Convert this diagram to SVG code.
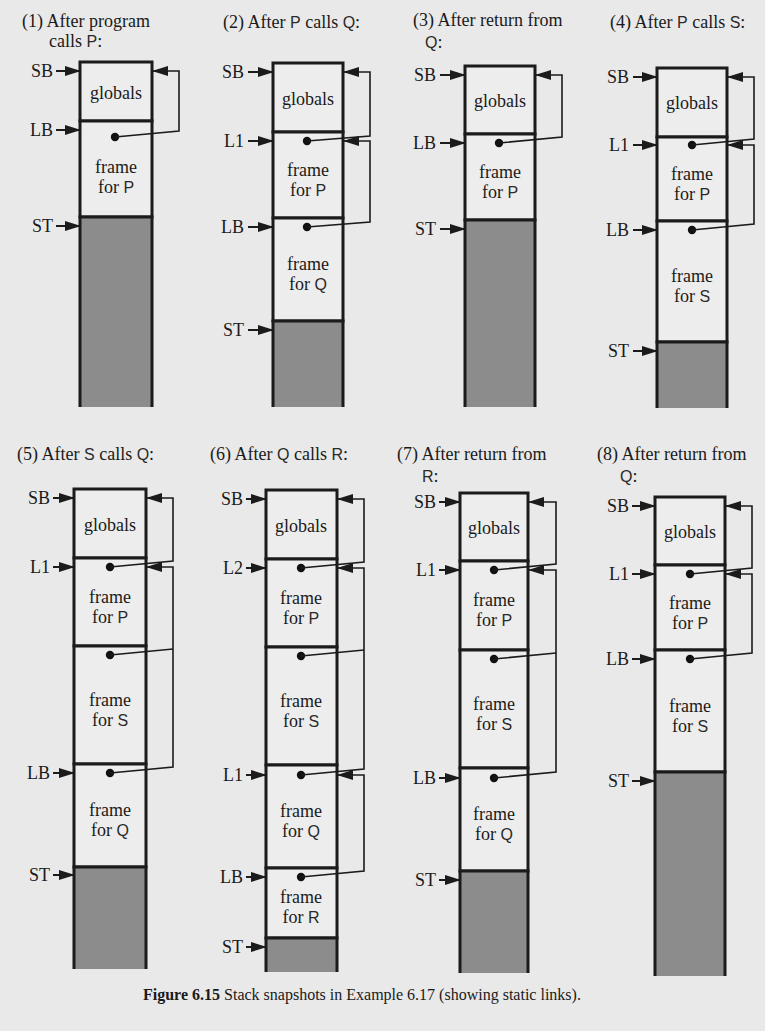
<svg xmlns="http://www.w3.org/2000/svg" width="765" height="1031" viewBox="0 0 765 1031">
<defs>
<style>
.t{font-family:"Liberation Serif","Times New Roman",serif;font-size:18px;fill:#1a1a1a}
.c{text-anchor:middle}
.e{text-anchor:end}
.p{font-family:"Liberation Sans",Arial,sans-serif;font-size:16px;fill:#2a2a2a}
.box{fill:#ededed;stroke:#1b1b1b;stroke-width:3}
.free{fill:#8c8c8c;stroke:none}
.col{fill:none;stroke:#1b1b1b;stroke-width:3}
.ptr{stroke:#1b1b1b;stroke-width:2;fill:none;marker-end:url(#ah)}
.lnk{stroke:#1b1b1b;stroke-width:1.6;fill:none;marker-end:url(#ah)}
.dot{fill:#111}
</style>
<marker id="ah" markerWidth="16" markerHeight="10" refX="15" refY="5" orient="auto" markerUnits="userSpaceOnUse"><path d="M0,0 L16,5 L0,10 z" fill="#1b1b1b"/></marker>
</defs>
<rect width="765" height="1031" fill="#e9e9e9"/>

<!-- Panel 1 -->
<g id="panel1">
<text class="t" x="22" y="27">(1) After program</text>
<text class="t" x="49" y="47">calls <tspan class="p">P</tspan>:</text>
<g id="p1-globals"><rect class="box" x="80" y="62" width="72" height="59"/><text class="t c" x="116" y="99">globals</text></g>
<g id="p1-frameP"><rect class="box" x="80" y="121" width="72" height="96"/><text class="t c" x="116" y="173">frame</text><text class="t c" x="116" y="193">for <tspan class="p">P</tspan></text></g>
<g id="p1-free"><rect class="free" x="80" y="217" width="72" height="190"/><path class="col" d="M80,407 V217 H152 V407"/></g>
<g id="p1-SB"><text class="t e" x="53" y="77">SB</text><line class="ptr" x1="56" y1="71" x2="80" y2="71"/></g>
<g id="p1-LB"><text class="t e" x="53" y="136">LB</text><line class="ptr" x1="56" y1="130" x2="80" y2="130"/></g>
<g id="p1-ST"><text class="t e" x="53" y="232">ST</text><line class="ptr" x1="56" y1="226" x2="80" y2="226"/></g>
<g id="p1-links"><circle class="dot" cx="115" cy="137" r="4.2"/><path class="lnk" d="M115,137 L179,131 V71 H153"/></g>
</g>

<!-- Panel 2 -->
<g id="panel2">
<text class="t" x="223" y="28">(2) After <tspan class="p">P</tspan> calls <tspan class="p">Q</tspan>:</text>
<g id="p2-globals"><rect class="box" x="273" y="63" width="70" height="69"/><text class="t c" x="308" y="105">globals</text></g>
<g id="p2-frameP"><rect class="box" x="273" y="132" width="70" height="86"/><text class="t c" x="308" y="176">frame</text><text class="t c" x="308" y="196">for <tspan class="p">P</tspan></text></g>
<g id="p2-frameQ"><rect class="box" x="273" y="218" width="70" height="103"/><text class="t c" x="308" y="270">frame</text><text class="t c" x="308" y="290">for <tspan class="p">Q</tspan></text></g>
<g id="p2-free"><rect class="free" x="273" y="321" width="70" height="86"/><path class="col" d="M273,407 V321 H343 V407"/></g>
<g id="p2-SB"><text class="t e" x="244" y="78">SB</text><line class="ptr" x1="248" y1="72" x2="273" y2="72"/></g>
<g id="p2-L1"><text class="t e" x="244" y="147">L1</text><line class="ptr" x1="248" y1="141" x2="273" y2="141"/></g>
<g id="p2-LB"><text class="t e" x="244" y="233">LB</text><line class="ptr" x1="248" y1="227" x2="273" y2="227"/></g>
<g id="p2-ST"><text class="t e" x="244" y="336">ST</text><line class="ptr" x1="248" y1="330" x2="273" y2="330"/></g>
<g id="p2-links"><circle class="dot" cx="307" cy="141" r="4.2"/><path class="lnk" d="M307,141 L370,136 V72 H344"/><circle class="dot" cx="307" cy="227" r="4.2"/><path class="lnk" d="M307,227 L370,222 V141 H344"/></g>
</g>

<!-- Panel 3 -->
<g id="panel3">
<text class="t" x="413" y="26">(3) After return from</text>
<text class="t" x="425" y="48"><tspan class="p">Q</tspan>:</text>
<g id="p3-globals"><rect class="box" x="465" y="66" width="70" height="68"/><text class="t c" x="500" y="107">globals</text></g>
<g id="p3-frameP"><rect class="box" x="465" y="134" width="70" height="86"/><text class="t c" x="500" y="178">frame</text><text class="t c" x="500" y="198">for <tspan class="p">P</tspan></text></g>
<g id="p3-free"><rect class="free" x="465" y="220" width="70" height="187"/><path class="col" d="M465,407 V220 H535 V407"/></g>
<g id="p3-SB"><text class="t e" x="436" y="81">SB</text><line class="ptr" x1="440" y1="75" x2="465" y2="75"/></g>
<g id="p3-LB"><text class="t e" x="436" y="149">LB</text><line class="ptr" x1="440" y1="143" x2="465" y2="143"/></g>
<g id="p3-ST"><text class="t e" x="436" y="235">ST</text><line class="ptr" x1="440" y1="229" x2="465" y2="229"/></g>
<g id="p3-links"><circle class="dot" cx="499" cy="143" r="4.2"/><path class="lnk" d="M499,143 L562,137 V75 H536"/></g>
</g>

<!-- Panel 4 -->
<g id="panel4">
<text class="t" x="610" y="28">(4) After <tspan class="p">P</tspan> calls <tspan class="p">S</tspan>:</text>
<g id="p4-globals"><rect class="box" x="657" y="68" width="70" height="69"/><text class="t c" x="692" y="109">globals</text></g>
<g id="p4-frameP"><rect class="box" x="657" y="137" width="70" height="84"/><text class="t c" x="692" y="180">frame</text><text class="t c" x="692" y="200">for <tspan class="p">P</tspan></text></g>
<g id="p4-frameS"><rect class="box" x="657" y="221" width="70" height="121"/><text class="t c" x="692" y="282">frame</text><text class="t c" x="692" y="302">for <tspan class="p">S</tspan></text></g>
<g id="p4-free"><rect class="free" x="657" y="342" width="70" height="66"/><path class="col" d="M657,408 V342 H727 V408"/></g>
<g id="p4-SB"><text class="t e" x="629" y="83">SB</text><line class="ptr" x1="633" y1="77" x2="657" y2="77"/></g>
<g id="p4-L1"><text class="t e" x="629" y="151">L1</text><line class="ptr" x1="633" y1="145" x2="657" y2="145"/></g>
<g id="p4-LB"><text class="t e" x="629" y="236">LB</text><line class="ptr" x1="633" y1="230" x2="657" y2="230"/></g>
<g id="p4-ST"><text class="t e" x="629" y="357">ST</text><line class="ptr" x1="633" y1="351" x2="657" y2="351"/></g>
<g id="p4-links"><circle class="dot" cx="692" cy="145" r="4.2"/><path class="lnk" d="M692,145 L754,139 V77 H728"/><circle class="dot" cx="692" cy="230" r="4.2"/><path class="lnk" d="M692,230 L754,224 V145 H728"/></g>
</g>

<!-- Panel 5 -->
<g id="panel5">
<text class="t" x="17" y="460">(5) After <tspan class="p">S</tspan> calls <tspan class="p">Q</tspan>:</text>
<g id="p5-globals"><rect class="box" x="74" y="489" width="72" height="69"/><text class="t c" x="110" y="531">globals</text></g>
<g id="p5-frameP"><rect class="box" x="74" y="558" width="72" height="88"/><text class="t c" x="110" y="603">frame</text><text class="t c" x="110" y="623">for <tspan class="p">P</tspan></text></g>
<g id="p5-frameS"><rect class="box" x="74" y="646" width="72" height="118"/><text class="t c" x="110" y="706">frame</text><text class="t c" x="110" y="726">for <tspan class="p">S</tspan></text></g>
<g id="p5-frameQ"><rect class="box" x="74" y="764" width="72" height="103"/><text class="t c" x="110" y="816">frame</text><text class="t c" x="110" y="836">for <tspan class="p">Q</tspan></text></g>
<g id="p5-free"><rect class="free" x="74" y="867" width="72" height="102"/><path class="col" d="M74,969 V867 H146 V969"/></g>
<g id="p5-SB"><text class="t e" x="50" y="504">SB</text><line class="ptr" x1="53" y1="498" x2="74" y2="498"/></g>
<g id="p5-L1"><text class="t e" x="50" y="573">L1</text><line class="ptr" x1="53" y1="567" x2="74" y2="567"/></g>
<g id="p5-LB"><text class="t e" x="50" y="779">LB</text><line class="ptr" x1="53" y1="773" x2="74" y2="773"/></g>
<g id="p5-ST"><text class="t e" x="50" y="881">ST</text><line class="ptr" x1="53" y1="875" x2="74" y2="875"/></g>
<g id="p5-links"><circle class="dot" cx="110" cy="567" r="4.2"/><path class="lnk" d="M110,567 L173,561 V498 H147"/><circle class="dot" cx="110" cy="655" r="4.2"/><path d="M110,655 L173,649" stroke="#1b1b1b" stroke-width="1.6" fill="none"/><circle class="dot" cx="110" cy="773" r="4.2"/><path class="lnk" d="M110,773 L173,767 V567 H147"/></g>
</g>

<!-- Panel 6 -->
<g id="panel6">
<text class="t" x="210" y="460">(6) After <tspan class="p">Q</tspan> calls <tspan class="p">R</tspan>:</text>
<g id="p6-globals"><rect class="box" x="266" y="490" width="71" height="69"/><text class="t c" x="301" y="532">globals</text></g>
<g id="p6-frameP"><rect class="box" x="266" y="559" width="71" height="88"/><text class="t c" x="301" y="604">frame</text><text class="t c" x="301" y="624">for <tspan class="p">P</tspan></text></g>
<g id="p6-frameS"><rect class="box" x="266" y="647" width="71" height="118"/><text class="t c" x="301" y="707">frame</text><text class="t c" x="301" y="727">for <tspan class="p">S</tspan></text></g>
<g id="p6-frameQ"><rect class="box" x="266" y="765" width="71" height="103"/><text class="t c" x="301" y="817">frame</text><text class="t c" x="301" y="837">for <tspan class="p">Q</tspan></text></g>
<g id="p6-frameR"><rect class="box" x="266" y="868" width="71" height="70"/><text class="t c" x="301" y="903">frame</text><text class="t c" x="301" y="923">for <tspan class="p">R</tspan></text></g>
<g id="p6-free"><rect class="free" x="266" y="938" width="71" height="34"/><path class="col" d="M266,972 V938 H337 V972"/></g>
<g id="p6-SB"><text class="t e" x="243" y="505">SB</text><line class="ptr" x1="246" y1="499" x2="266" y2="499"/></g>
<g id="p6-L2"><text class="t e" x="243" y="574">L2</text><line class="ptr" x1="246" y1="568" x2="266" y2="568"/></g>
<g id="p6-L1"><text class="t e" x="243" y="781">L1</text><line class="ptr" x1="246" y1="775" x2="266" y2="775"/></g>
<g id="p6-LB"><text class="t e" x="243" y="883">LB</text><line class="ptr" x1="246" y1="877" x2="266" y2="877"/></g>
<g id="p6-ST"><text class="t e" x="243" y="953">ST</text><line class="ptr" x1="246" y1="947" x2="266" y2="947"/></g>
<g id="p6-links"><circle class="dot" cx="301" cy="568" r="4.2"/><path class="lnk" d="M301,568 L364,562 V499 H338"/><circle class="dot" cx="301" cy="656" r="4.2"/><path d="M301,656 L364,650" stroke="#1b1b1b" stroke-width="1.6" fill="none"/><circle class="dot" cx="301" cy="775" r="4.2"/><path class="lnk" d="M301,775 L364,769 V568 H338"/><circle class="dot" cx="301" cy="877" r="4.2"/><path class="lnk" d="M301,877 L364,871 V775 H338"/></g>
</g>

<!-- Panel 7 -->
<g id="panel7">
<text class="t" x="397" y="460">(7) After return from</text>
<text class="t" x="422" y="482"><tspan class="p">R</tspan>:</text>
<g id="p7-globals"><rect class="box" x="460" y="493" width="68" height="68"/><text class="t c" x="494" y="534">globals</text></g>
<g id="p7-frameP"><rect class="box" x="460" y="561" width="68" height="89"/><text class="t c" x="494" y="606">frame</text><text class="t c" x="494" y="626">for <tspan class="p">P</tspan></text></g>
<g id="p7-frameS"><rect class="box" x="460" y="650" width="68" height="118"/><text class="t c" x="494" y="710">frame</text><text class="t c" x="494" y="730">for <tspan class="p">S</tspan></text></g>
<g id="p7-frameQ"><rect class="box" x="460" y="768" width="68" height="103"/><text class="t c" x="494" y="820">frame</text><text class="t c" x="494" y="840">for <tspan class="p">Q</tspan></text></g>
<g id="p7-free"><rect class="free" x="460" y="871" width="68" height="102"/><path class="col" d="M460,973 V871 H528 V973"/></g>
<g id="p7-SB"><text class="t e" x="436" y="508">SB</text><line class="ptr" x1="439" y1="502" x2="460" y2="502"/></g>
<g id="p7-L1"><text class="t e" x="436" y="576">L1</text><line class="ptr" x1="439" y1="570" x2="460" y2="570"/></g>
<g id="p7-LB"><text class="t e" x="436" y="784">LB</text><line class="ptr" x1="439" y1="778" x2="460" y2="778"/></g>
<g id="p7-ST"><text class="t e" x="436" y="886">ST</text><line class="ptr" x1="439" y1="880" x2="460" y2="880"/></g>
<g id="p7-links"><circle class="dot" cx="494" cy="570" r="4.2"/><path class="lnk" d="M494,570 L556,564 V502 H529"/><circle class="dot" cx="494" cy="659" r="4.2"/><path d="M494,659 L556,653" stroke="#1b1b1b" stroke-width="1.6" fill="none"/><circle class="dot" cx="494" cy="778" r="4.2"/><path class="lnk" d="M494,778 L556,772 V570 H529"/></g>
</g>

<!-- Panel 8 -->
<g id="panel8">
<text class="t" x="597" y="460">(8) After return from</text>
<text class="t" x="620" y="482"><tspan class="p">Q</tspan>:</text>
<g id="p8-globals"><rect class="box" x="655" y="497" width="70" height="68"/><text class="t c" x="690" y="538">globals</text></g>
<g id="p8-frameP"><rect class="box" x="655" y="565" width="70" height="85"/><text class="t c" x="690" y="609">frame</text><text class="t c" x="690" y="629">for <tspan class="p">P</tspan></text></g>
<g id="p8-frameS"><rect class="box" x="655" y="650" width="70" height="122"/><text class="t c" x="690" y="712">frame</text><text class="t c" x="690" y="732">for <tspan class="p">S</tspan></text></g>
<g id="p8-free"><rect class="free" x="655" y="772" width="70" height="204"/><path class="col" d="M655,976 V772 H725 V976"/></g>
<g id="p8-SB"><text class="t e" x="629" y="512">SB</text><line class="ptr" x1="632" y1="506" x2="655" y2="506"/></g>
<g id="p8-L1"><text class="t e" x="629" y="580">L1</text><line class="ptr" x1="632" y1="574" x2="655" y2="574"/></g>
<g id="p8-LB"><text class="t e" x="629" y="665">LB</text><line class="ptr" x1="632" y1="659" x2="655" y2="659"/></g>
<g id="p8-ST"><text class="t e" x="629" y="787">ST</text><line class="ptr" x1="632" y1="781" x2="655" y2="781"/></g>
<g id="p8-links"><circle class="dot" cx="690" cy="574" r="4.2"/><path class="lnk" d="M690,574 L752,568 V506 H726"/><circle class="dot" cx="690" cy="659" r="4.2"/><path class="lnk" d="M690,659 L752,653 V574 H726"/></g>
</g>

<text class="t" x="143" y="1000" style="font-size:16px"><tspan font-weight="bold">Figure 6.15</tspan>  Stack snapshots in Example 6.17 (showing static links).</text>
</svg>
